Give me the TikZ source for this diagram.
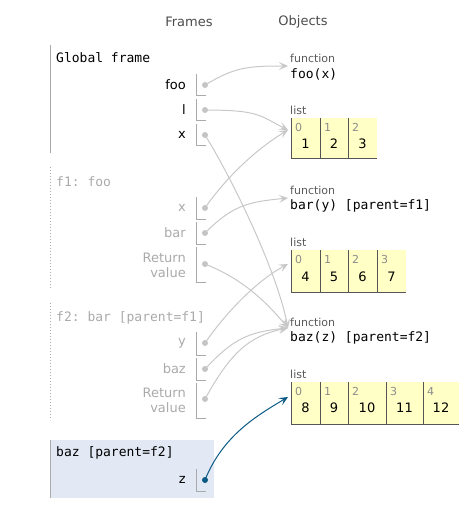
\documentclass[tikz,border=0pt]{standalone}
\usepackage{fontspec}
\setmainfont{DejaVu Sans}
\setmonofont{DejaVu Sans Mono}
\usetikzlibrary{arrows.meta}
\definecolor{lightgr}{HTML}{AAAAAA}
\definecolor{dotgr}{HTML}{C4C4C4}
\definecolor{ptrgr}{HTML}{C8C8C8}
\definecolor{listyel}{HTML}{FFFFC6}
\definecolor{listedge}{HTML}{555555}
\definecolor{hlblue}{HTML}{E2E9F4}
\definecolor{ptrblue}{HTML}{0B5A84}
\tikzset{
  hdr/.style={font=\fontsize{13}{15}\selectfont, text=black!70},
  frametitle/.style={anchor=west, inner sep=0pt, font=\ttfamily\fontsize{13}{15}\selectfont},
  varname/.style={anchor=east, inner sep=0pt, align=right, font=\fontsize{13}{15}\selectfont},
  boxline/.style={draw=lightgr, line width=1pt},
  vardot/.style={circle, fill=dotgr, inner sep=0pt, minimum size=6pt},
  ptr/.style={draw=ptrgr, line width=1pt, -{Stealth[length=9pt,width=8pt,inset=4pt]}},
  objtag/.style={anchor=west, inner sep=0pt, text=black!65, font=\fontsize{11}{13}\selectfont},
  fncode/.style={anchor=west, inner sep=0pt, font=\ttfamily\fontsize{13}{15}\selectfont},
  idx/.style={anchor=west, inner sep=0pt, text=black!45, font=\fontsize{11}{13}\selectfont},
  val/.style={inner sep=0pt, font=\fontsize{13}{15}\selectfont}
}
\begin{document}
\begin{tikzpicture}[x=1pt,y=-1pt]
\useasboundingbox (0,0) rectangle (475,529);
% headers
\node[hdr] (frameshdr) at (189,22) {Frames};
\node[hdr] (objshdr) at (303,22) {Objects};

% global frame
\draw[lightgr, line width=1pt] (50,45) -- (50,153);
\node[frametitle] (gtitle) at (56,58) {Global frame};
\node[varname] (foolbl) at (186,85) {foo};
\node[varname] (llbl) at (186,110) {l};
\node[varname] (gxlbl) at (186,135) {x};

% f1: foo
\draw[lightgr, line width=1pt, dotted] (50,167) -- (50,289);
\node[frametitle, text=lightgr] (f1title) at (56,182) {f1: foo};
\node[varname, text=lightgr] (f1xlbl) at (186,208) {x};
\node[varname, text=lightgr] (f1barlbl) at (186,233) {bar};
\node[varname, text=lightgr] (f1retlbl) at (186,265) {Return\\value};

% f2: bar
\draw[lightgr, line width=1pt, dotted] (50,303) -- (50,420);
\node[frametitle, text=lightgr] (f2title) at (56,318) {f2: bar [parent=f1]};
\node[varname, text=lightgr] (f2ylbl) at (186,343) {y};
\node[varname, text=lightgr] (f2bazlbl) at (186,369) {baz};
\node[varname, text=lightgr] (f2retlbl) at (186,400) {Return\\value};

% baz frame (current)
\fill[hlblue] (50,440) rectangle (214,498);
\draw[lightgr, line width=1pt] (50,440) -- (50,498);
\node[frametitle] (baztitle) at (56,453) {baz [parent=f2]};
\node[varname] (zlbl) at (186,480) {z};

% variable boxes
\foreach \t/\b in {74/96, 99/121, 124/146, 197/219, 222/244, 247/282,
                   332/355, 358/380, 383/418, 469/491}
  \draw[boxline] (196,\t) -- (196,\b) -- (206,\b);

\node[vardot] (foodot) at (205,85) {};
\node[vardot] (ldot) at (205,110) {};
\node[vardot] (gxdot) at (205,135) {};
\node[vardot] (f1xdot) at (205,208) {};
\node[vardot] (f1bardot) at (205,233) {};
\node[vardot] (f1retdot) at (205,264) {};
\node[vardot] (f2ydot) at (205,343) {};
\node[vardot] (f2bazdot) at (205,369) {};
\node[vardot] (f2retdot) at (205,399) {};
\node[vardot, fill=ptrblue] (zdot) at (205,480) {};

% function objects
\node[objtag] (foofntag) at (290,58) {function};
\node[fncode] (foofn) at (290,74) {foo(x)};
\node[objtag] (barfntag) at (290,190) {function};
\node[fncode] (barfn) at (290,206) {bar(y) [parent=f1]};
\node[objtag] (bazfntag) at (290,322) {function};
\node[fncode] (bazfn) at (290,338) {baz(z) [parent=f2]};

% list [1,2,3]
\node[objtag] (listatag) at (290,110) {list};
\fill[listyel] (291,118) rectangle (377,159);
\foreach \l/\r/\i/\v in {291/320/0/1, 320/348/1/2, 348/377/2/3} {
  \draw[listedge, line width=1pt] (\l,118) -- (\l,159) -- (\r,159);
  \node[idx] at (\l+4,127) {\i};
  \node[val] at ({(\l+\r)/2},144) {\v};
}
% list [4,5,6,7]
\node[objtag] (listbtag) at (290,242) {list};
\fill[listyel] (291,250) rectangle (406,292);
\foreach \l/\r/\i/\v in {291/320/0/4, 320/348/1/5, 348/377/2/6, 377/406/3/7} {
  \draw[listedge, line width=1pt] (\l,250) -- (\l,292) -- (\r,292);
  \node[idx] at (\l+4,259) {\i};
  \node[val] at ({(\l+\r)/2},277) {\v};
}
% list [8..12]
\node[objtag] (listctag) at (290,374) {list};
\fill[listyel] (291,382) rectangle (459,424);
\foreach \l/\r/\i/\v in {291/320/0/8, 320/348/1/9, 348/386/2/10, 386/423/3/11, 423/459/4/12} {
  \draw[listedge, line width=1pt] (\l,382) -- (\l,424) -- (\r,424);
  \node[idx] at (\l+4,391) {\i};
  \node[val] at ({(\l+\r)/2},408) {\v};
}

% pointer ends
\coordinate (foofnin) at (288,66);
\coordinate (barfnin) at (288,198);
\coordinate (bazfnin) at (288,328);
\coordinate (listain) at (288,130);
\coordinate (listbin) at (288,264);
\coordinate (listcin) at (288,397);

% pointers
\draw[ptr] (foodot.center) .. controls +(30,-18) and +(-40,0) .. (foofnin);
\draw[ptr] (ldot.center) .. controls +(55,0) and +(-28,-14) .. (listain);
\draw[ptr] (gxdot.center) .. controls +(25,40) and +(-12,-60) .. (bazfnin);
\draw[ptr] (f1xdot.center) .. controls +(22,-32) and +(-30,18) .. (listain);
\draw[ptr] (f1bardot.center) .. controls +(28,-28) and +(-40,4) .. (barfnin);
\draw[ptr] (f1retdot.center) .. controls +(35,14) and +(-25,-30) .. (bazfnin);
\draw[ptr] (f2ydot.center) .. controls +(22,-32) and +(-30,16) .. (listbin);
\draw[ptr] (f2bazdot.center) .. controls +(28,-30) and +(-40,4) .. (bazfnin);
\draw[ptr] (f2retdot.center) .. controls +(25,-45) and +(-40,8) .. (bazfnin);
\draw[ptr, draw=ptrblue] (zdot.center) .. controls +(18,-45) and +(-30,18) .. (listcin);
\end{tikzpicture}
\end{document}
